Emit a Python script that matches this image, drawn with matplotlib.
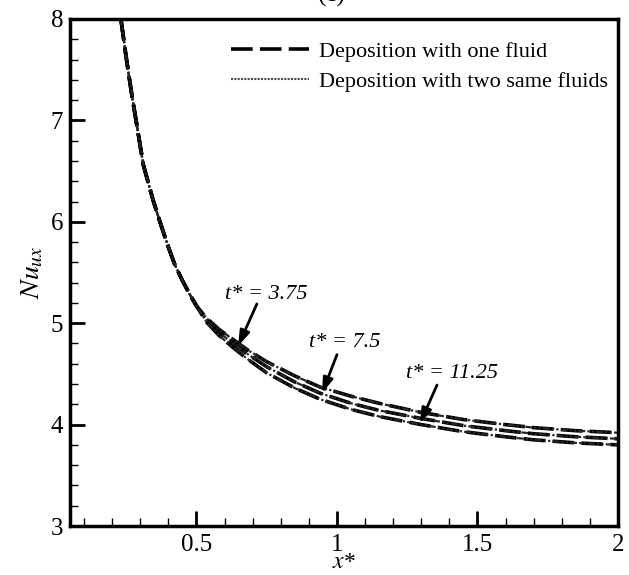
import numpy as np
import matplotlib.pyplot as plt

plt.rcParams['font.family'] = ['Liberation Serif', 'DejaVu Serif']
plt.rcParams['mathtext.fontset'] = 'stix'

# x* positions shared by all curves
x = [0.231, 0.25, 0.27, 0.285, 0.311, 0.346, 0.37, 0.40, 0.424, 0.45, 0.477, 0.50,
     0.536, 0.58, 0.63, 0.68, 0.75, 0.85, 0.94, 1.05, 1.15, 1.3, 1.45, 1.6, 1.7, 1.85, 2.0]
head = [8.0, 7.62, 7.25, 7.0, 6.56, 6.21, 6.0, 5.75, 5.57, 5.42, 5.28, 5.17]
nu_t375 = head + [5.05, 4.94, 4.84, 4.74, 4.62, 4.48, 4.37, 4.28, 4.21, 4.12, 4.05, 4.00, 3.97, 3.94, 3.92]
nu_t75 = head + [5.03, 4.91, 4.80, 4.70, 4.57, 4.42, 4.31, 4.21, 4.14, 4.06, 3.99, 3.94, 3.91, 3.88, 3.86]
nu_t1125 = head + [5.01, 4.88, 4.76, 4.65, 4.51, 4.36, 4.25, 4.15, 4.08, 4.00, 3.93, 3.88, 3.85, 3.82, 3.80]
curves = [nu_t375, nu_t75, nu_t1125]

labels = ['t* = 3.75', 't* = 7.5', 't* = 11.25']
text_pos = [(0.747, 5.28), (1.029, 4.81), (1.41, 4.50)]
arrow_tail = [(0.715, 5.19), (1.0, 4.69), (1.356, 4.39)]
arrow_tip = [(0.648, 4.775), (0.947, 4.31), (1.295, 4.01)]

fig = plt.figure(figsize=(6.29, 5.75), dpi=100)
ax = fig.add_axes([0.1113, 0.0852, 0.8712, 0.8818])

for i, nu in enumerate(curves):
    ax.plot(x, nu, color='k', lw=2.6, linestyle=(0, (6, 2)),
            label='Deposition with one fluid' if i == 0 else None)
    ax.plot(x, nu, color='0.15', lw=1.6, linestyle=(0, (3, 1, 1, 1, 1, 1)),
            label='_nolegend_')

# legend entry for the two-fluid runs shows the fine dotted pattern
ax.plot([], [], color='0.3', lw=1.5, linestyle=(0, (1, 0.6)),
        label='Deposition with two same fluids')

for lab, tp, tail, tip in zip(labels, text_pos, arrow_tail, arrow_tip):
    ax.text(tp[0], tp[1], lab, fontsize=16, style='italic', ha='center', va='center')
    ax.annotate('', xy=tip, xytext=tail,
                arrowprops=dict(arrowstyle='-|>,head_length=0.9,head_width=0.3',
                                color='k', lw=2, shrinkA=0, shrinkB=0))

ax.set_xlim(0.05, 2)
ax.set_ylim(3, 8)
ax.set_xticks([0.5, 1, 1.5, 2])
ax.set_xticklabels(['0.5', '1', '1.5', '2'])
ax.set_xticks(np.arange(0.1, 2.0, 0.1), minor=True)
ax.set_yticks([3, 4, 5, 6, 7, 8])
ax.set_yticks(np.arange(3, 8.01, 0.2), minor=True)
ax.tick_params(which='both', direction='in', top=False, right=False, labelsize=18)
ax.tick_params(which='major', length=11, width=2)
ax.tick_params(axis='x', which='major', pad=6)
ax.tick_params(axis='y', which='major', pad=5)
ax.tick_params(which='minor', length=6, width=1)
for s in ax.spines.values():
    s.set_linewidth(2.5)

ax.set_xlabel('$x$*', fontsize=17, labelpad=-3)
ax.set_ylabel('$Nu_{ux}$', fontsize=20, labelpad=4)

ax.legend(loc='upper right', bbox_to_anchor=(1.018, 0.995), frameon=False,
          fontsize=16, handlelength=3.5, handletextpad=0.45, labelspacing=0.4)

fig.text(0.528, 0.987, '(c)', ha='center', va='bottom', fontsize=18)

fig.savefig('out.png', dpi=100)
